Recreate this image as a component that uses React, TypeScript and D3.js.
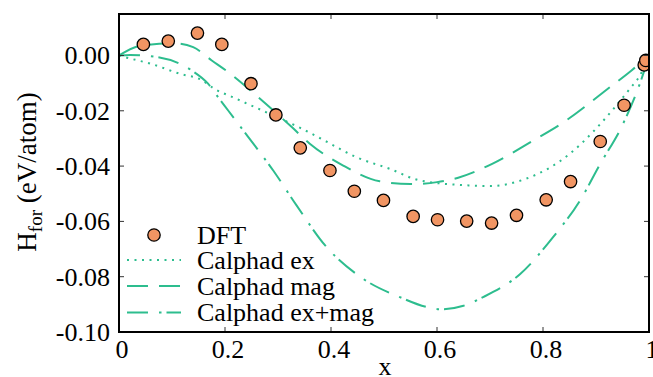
import React from "react";
import * as d3 from "d3";

const dftX = [0.046, 0.093, 0.148, 0.194, 0.249, 0.296, 0.342, 0.398, 0.444, 0.499, 0.555, 0.601, 0.656, 0.703, 0.75, 0.806, 0.852, 0.908, 0.953, 0.991, 0.994];
const dftY = [0.004, 0.0052, 0.0081, 0.004, -0.0102, -0.0215, -0.0334, -0.0416, -0.0491, -0.0524, -0.0582, -0.0594, -0.0599, -0.0606, -0.0578, -0.0522, -0.0456, -0.0311, -0.018, -0.0034, -0.0018];

const exX = [0, 0.015, 0.06, 0.118, 0.153, 0.181, 0.215, 0.275, 0.342, 0.39, 0.448, 0.511, 0.568, 0.662, 0.7, 0.769, 0.851, 0.895, 0.933, 0.964, 0.983, 1];
const exY = [0, -0.0008, -0.003, -0.0068, -0.0086, -0.0122, -0.0151, -0.0203, -0.0262, -0.031, -0.0368, -0.041, -0.0452, -0.047, -0.0472, -0.0445, -0.0355, -0.0275, -0.0193, -0.012, -0.0072, 0];

const magX = [0, 0.043, 0.106, 0.14, 0.175, 0.206, 0.263, 0.326, 0.36, 0.423, 0.492, 0.55, 0.6, 0.64, 0.706, 0.782, 0.832, 0.926, 0.967, 1];
const magY = [0, 0.0036, 0.0044, 0.003, -0.0018, -0.006, -0.0151, -0.0259, -0.0319, -0.0398, -0.0455, -0.0465, -0.0458, -0.0442, -0.039, -0.0307, -0.025, -0.0115, -0.0054, 0];

const exMagX = [0, 0.021, 0.074, 0.137, 0.168, 0.187, 0.206, 0.244, 0.291, 0.335, 0.389, 0.461, 0.53, 0.581, 0.606, 0.65, 0.687, 0.757, 0.819, 0.87, 0.908, 0.948, 0.986, 1];
const exMagY = [0, 0.0002, -0.0006, -0.0054, -0.0102, -0.0151, -0.0199, -0.0295, -0.0416, -0.0542, -0.0687, -0.0808, -0.0874, -0.091, -0.0918, -0.0905, -0.0874, -0.079, -0.0657, -0.0524, -0.0392, -0.0259, -0.0084, 0];

const xTicks = [0, 0.2, 0.4, 0.6, 0.8, 1];
const xTickLabels = ["0", "0.2", "0.4", "0.6", "0.8", "1"];
const yTicks = [0, -0.02, -0.04, -0.06, -0.08, -0.1];
const yTickLabels = ["0.00", "-0.02", "-0.04", "-0.06", "-0.08", "-0.10"];

const legendLabels = ["DFT", "Calphad ex", "Calphad mag", "Calphad ex+mag"];

const W = 653;
const H = 377;
const L = 119, R = 649, T = 14, B = 332;
const GREEN = "#2dbd8e";
const ORANGE = "#f19563";
const FONT = "'Liberation Serif', 'Times New Roman', serif";

export default function App() {
  const x = d3.scaleLinear().domain([0, 1]).range([L, R]);
  const y = d3.scaleLinear().domain([-0.1, 0.015]).range([B, T]);
  const line = d3
    .line<[number, number]>()
    .x((d) => x(d[0]))
    .y((d) => y(d[1]))
    .curve(d3.curveMonotoneX);
  const zip = (a: number[], b: number[]) => a.map((v, i) => [v, b[i]] as [number, number]);

  const curves = [
    { d: line(zip(exX, exY)), dash: "2,5.5", cap: "butt" },
    { d: line(zip(magX, magY)), dash: "21,11", cap: "butt" },
    { d: line(zip(exMagX, exMagY)), dash: "21,11,2.5,5", cap: "butt" },
  ];
  const tickLen = 5;
  const legX0 = 127, legX1 = 181, legTextX = 197;
  const legRowY = [235, 260, 286, 312.5];

  return (
    <svg width={W} height={H} style={{ position: "absolute", left: 0, top: 0, background: "#fff" }} fontFamily={FONT}>
      <defs>
        <clipPath id="plotclip">
          <rect x={L} y={T} width={R - L} height={B - T} />
        </clipPath>
      </defs>
      <rect x={0} y={0} width={W} height={H} fill="#fff" />
      <g clipPath="url(#plotclip)">
        {curves.map((c, i) => (
          <path key={i} d={c.d || ""} fill="none" stroke={GREEN} strokeWidth={2} strokeDasharray={c.dash} strokeLinecap={c.cap as any} />
        ))}
        {dftX.map((v, i) => (
          <circle key={i} cx={x(v)} cy={y(dftY[i])} r={6.2} fill={ORANGE} stroke="#000" strokeWidth={1.3} />
        ))}
      </g>
      {/* ticks */}
      {xTicks.map((t, i) => (
        <g key={"xt" + i}>
          <line x1={x(t)} x2={x(t)} y1={B} y2={B - tickLen} stroke="#333" strokeWidth={1} />
          <line x1={x(t)} x2={x(t)} y1={T} y2={T + tickLen} stroke="#333" strokeWidth={1} />
          <text x={x(t) + 3} y={358} textAnchor="middle" fontSize={26} fill="#000">
            {xTickLabels[i]}
          </text>
        </g>
      ))}
      {yTicks.map((t, i) => (
        <g key={"yt" + i}>
          <line x1={L} x2={L + tickLen} y1={y(t)} y2={y(t)} stroke="#333" strokeWidth={1} />
          <line x1={R} x2={R - tickLen} y1={y(t)} y2={y(t)} stroke="#333" strokeWidth={1} />
          <text x={110} y={y(t) + 9} textAnchor="end" fontSize={26} fill="#000">
            {yTickLabels[i]}
          </text>
        </g>
      ))}
      <rect x={L} y={T} width={R - L} height={B - T} fill="none" stroke="#000" strokeWidth={2} />
      {/* legend */}
      <circle cx={154} cy={legRowY[0]} r={6.2} fill={ORANGE} stroke="#000" strokeWidth={1.3} />
      {curves.map((c, i) => (
        <line key={"lg" + i} x1={legX0} x2={legX1} y1={legRowY[i + 1]} y2={legRowY[i + 1]} stroke={GREEN} strokeWidth={2} strokeDasharray={c.dash} />
      ))}
      {legendLabels.map((s, i) => (
        <text key={"lt" + i} x={legTextX} y={legRowY[i] + 8.5} fontSize={26} fill="#000">
          {s}
        </text>
      ))}
      {/* axis labels */}
      <text x={385} y={375} textAnchor="middle" fontSize={26} fill="#000">x</text>
      <text transform={`translate(36,172) rotate(-90)`} textAnchor="middle" fontSize={27} fill="#000">
        H<tspan fontSize={19} dy={6}>for</tspan>
        <tspan dy={-6}> (eV/atom)</tspan>
      </text>
    </svg>
  );
}
